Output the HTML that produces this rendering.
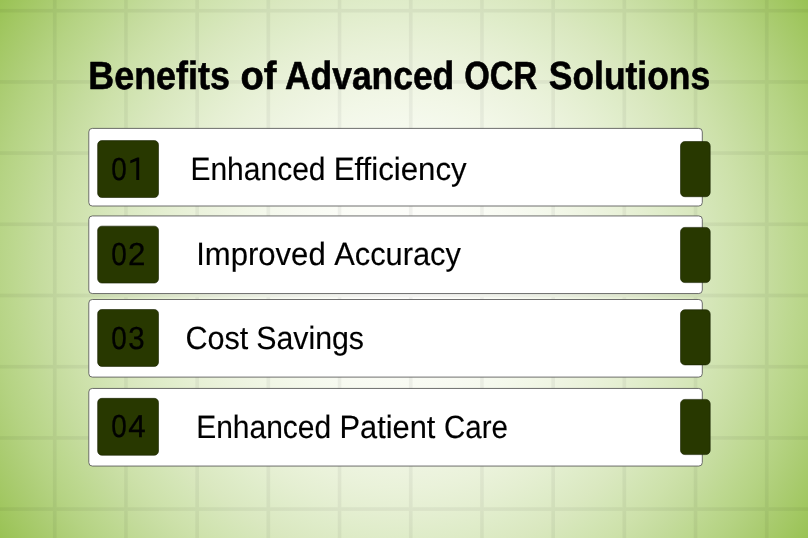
<!DOCTYPE html>
<html><head><meta charset="utf-8"><title>Benefits of Advanced OCR Solutions</title>
<style>
html,body{margin:0;padding:0;background:#9cc35a;}
body{width:808px;height:538px;overflow:hidden;font-family:"Liberation Sans",sans-serif;}
svg{display:block;font-family:"Liberation Sans",sans-serif;}
.txt{position:absolute;left:0;top:0;will-change:transform;transform:translateZ(0);}
</style></head><body>
<svg width="808" height="538" viewBox="0 0 808 538">
<defs><radialGradient id="bg" gradientUnits="userSpaceOnUse" cx="404.0" cy="269.0" r="485.36"><stop offset="0.000" stop-color="rgb(254,254,252)"/><stop offset="0.050" stop-color="rgb(254,254,252)"/><stop offset="0.100" stop-color="rgb(253,253,250)"/><stop offset="0.150" stop-color="rgb(252,253,248)"/><stop offset="0.200" stop-color="rgb(250,252,245)"/><stop offset="0.250" stop-color="rgb(248,250,242)"/><stop offset="0.300" stop-color="rgb(245,249,237)"/><stop offset="0.350" stop-color="rgb(242,247,231)"/><stop offset="0.400" stop-color="rgb(238,244,225)"/><stop offset="0.450" stop-color="rgb(234,242,218)"/><stop offset="0.500" stop-color="rgb(229,239,210)"/><stop offset="0.550" stop-color="rgb(223,236,201)"/><stop offset="0.600" stop-color="rgb(218,232,192)"/><stop offset="0.650" stop-color="rgb(211,229,181)"/><stop offset="0.700" stop-color="rgb(205,225,170)"/><stop offset="0.750" stop-color="rgb(197,220,158)"/><stop offset="0.800" stop-color="rgb(189,216,144)"/><stop offset="0.850" stop-color="rgb(181,211,131)"/><stop offset="0.900" stop-color="rgb(172,205,116)"/><stop offset="0.950" stop-color="rgb(163,200,100)"/><stop offset="1.000" stop-color="rgb(153,194,84)"/></radialGradient></defs>
<rect width="808" height="538" fill="url(#bg)"/>
<g fill="#000" opacity="0.045"><rect x="-18.30" y="0" width="3.7" height="538"/><rect x="52.90" y="0" width="3.7" height="538"/><rect x="124.10" y="0" width="3.7" height="538"/><rect x="195.30" y="0" width="3.7" height="538"/><rect x="266.50" y="0" width="3.7" height="538"/><rect x="337.70" y="0" width="3.7" height="538"/><rect x="408.90" y="0" width="3.7" height="538"/><rect x="480.10" y="0" width="3.7" height="538"/><rect x="551.30" y="0" width="3.7" height="538"/><rect x="622.50" y="0" width="3.7" height="538"/><rect x="693.70" y="0" width="3.7" height="538"/><rect x="764.90" y="0" width="3.7" height="538"/><rect x="836.10" y="0" width="3.7" height="538"/><rect x="0" y="-62.35" width="808" height="3.7"/><rect x="0" y="8.85" width="808" height="3.7"/><rect x="0" y="80.05" width="808" height="3.7"/><rect x="0" y="151.25" width="808" height="3.7"/><rect x="0" y="222.45" width="808" height="3.7"/><rect x="0" y="293.65" width="808" height="3.7"/><rect x="0" y="364.85" width="808" height="3.7"/><rect x="0" y="436.05" width="808" height="3.7"/><rect x="0" y="507.25" width="808" height="3.7"/><rect x="0" y="578.45" width="808" height="3.7"/></g>
<rect x="88.8" y="128.40" width="613.5" height="77.6" rx="3.5" fill="#fff" stroke="#555" stroke-width="0.85"/>
<rect x="97.65" y="140.60" width="60.85" height="56.9" rx="4.2" fill="#283800" stroke="#182100" stroke-width="0.6"/>
<rect x="680.5" y="141.50" width="29.7" height="55.2" rx="4.4" fill="#283800" stroke="#182100" stroke-width="0.6"/>
<rect x="88.8" y="215.95" width="613.5" height="77.6" rx="3.5" fill="#fff" stroke="#555" stroke-width="0.85"/>
<rect x="97.65" y="226.15" width="60.85" height="56.9" rx="4.2" fill="#283800" stroke="#182100" stroke-width="0.6"/>
<rect x="680.5" y="227.40" width="29.7" height="55.2" rx="4.4" fill="#283800" stroke="#182100" stroke-width="0.6"/>
<rect x="88.8" y="299.50" width="613.5" height="77.6" rx="3.5" fill="#fff" stroke="#555" stroke-width="0.85"/>
<rect x="97.65" y="309.50" width="60.85" height="56.9" rx="4.2" fill="#283800" stroke="#182100" stroke-width="0.6"/>
<rect x="680.5" y="309.70" width="29.7" height="55.2" rx="4.4" fill="#283800" stroke="#182100" stroke-width="0.6"/>
<rect x="88.8" y="388.45" width="613.5" height="77.6" rx="3.5" fill="#fff" stroke="#555" stroke-width="0.85"/>
<rect x="97.65" y="398.35" width="60.85" height="56.9" rx="4.2" fill="#283800" stroke="#182100" stroke-width="0.6"/>
<rect x="680.5" y="399.40" width="29.7" height="55.2" rx="4.4" fill="#283800" stroke="#182100" stroke-width="0.6"/>

</svg>
<svg class="txt" width="808" height="538" viewBox="0 0 808 538" text-rendering="geometricPrecision">
<text x="88.37" y="88.50" font-size="39.3" font-weight="bold" textLength="141.49" lengthAdjust="spacingAndGlyphs" fill="#000" stroke="#000" stroke-width="0.6" stroke-linejoin="round">Benefits</text>
<text x="240.52" y="88.50" font-size="39.3" font-weight="bold" textLength="35.96" lengthAdjust="spacingAndGlyphs" fill="#000" stroke="#000" stroke-width="0.6" stroke-linejoin="round">of</text>
<text x="285.00" y="88.50" font-size="39.3" font-weight="bold" textLength="169.25" lengthAdjust="spacingAndGlyphs" fill="#000" stroke="#000" stroke-width="0.6" stroke-linejoin="round">Advanced</text>
<text x="464.17" y="88.50" font-size="39.3" font-weight="bold" textLength="73.06" lengthAdjust="spacingAndGlyphs" fill="#000" stroke="#000" stroke-width="0.6" stroke-linejoin="round">OCR</text>
<text x="548.76" y="88.50" font-size="39.3" font-weight="bold" textLength="161.47" lengthAdjust="spacingAndGlyphs" fill="#000" stroke="#000" stroke-width="0.6" stroke-linejoin="round">Solutions</text>
<text x="190.42" y="180.05" font-size="32.2" font-weight="normal" textLength="135.14" lengthAdjust="spacingAndGlyphs" fill="#000" stroke="#000" stroke-width="0.15">Enhanced</text>
<text x="333.63" y="180.05" font-size="32.2" font-weight="normal" textLength="133.00" lengthAdjust="spacingAndGlyphs" fill="#000" stroke="#000" stroke-width="0.15">Efficiency</text>
<text x="196.16" y="265.40" font-size="32.2" font-weight="normal" textLength="129.53" lengthAdjust="spacingAndGlyphs" fill="#000" stroke="#000" stroke-width="0.15">Improved</text>
<text x="334.23" y="265.40" font-size="32.2" font-weight="normal" textLength="126.63" lengthAdjust="spacingAndGlyphs" fill="#000" stroke="#000" stroke-width="0.15">Accuracy</text>
<text x="185.40" y="349.05" font-size="32.2" font-weight="normal" textLength="62.90" lengthAdjust="spacingAndGlyphs" fill="#000" stroke="#000" stroke-width="0.15">Cost</text>
<text x="256.20" y="349.05" font-size="32.2" font-weight="normal" textLength="107.82" lengthAdjust="spacingAndGlyphs" fill="#000" stroke="#000" stroke-width="0.15">Savings</text>
<text x="196.15" y="438.00" font-size="32.2" font-weight="normal" textLength="135.10" lengthAdjust="spacingAndGlyphs" fill="#000" stroke="#000" stroke-width="0.15">Enhanced</text>
<text x="339.58" y="438.00" font-size="32.2" font-weight="normal" textLength="95.77" lengthAdjust="spacingAndGlyphs" fill="#000" stroke="#000" stroke-width="0.15">Patient</text>
<text x="444.10" y="438.00" font-size="32.2" font-weight="normal" textLength="63.85" lengthAdjust="spacingAndGlyphs" fill="#000" stroke="#000" stroke-width="0.15">Care</text>
<text x="111.31" y="179.80" font-size="31.8" font-weight="normal" textLength="15.52" lengthAdjust="spacingAndGlyphs" fill="#010200" stroke="#010200" stroke-width="0.3">0</text>
<text x="111.31" y="265.10" font-size="31.8" font-weight="normal" textLength="15.52" lengthAdjust="spacingAndGlyphs" fill="#010200" stroke="#010200" stroke-width="0.3">0</text>
<text x="111.31" y="348.50" font-size="31.8" font-weight="normal" textLength="15.52" lengthAdjust="spacingAndGlyphs" fill="#010200" stroke="#010200" stroke-width="0.3">0</text>
<text x="111.31" y="437.20" font-size="31.8" font-weight="normal" textLength="15.52" lengthAdjust="spacingAndGlyphs" fill="#010200" stroke="#010200" stroke-width="0.3">0</text>
<text x="128.06" y="265.10" font-size="31.8" font-weight="normal" textLength="17.43" lengthAdjust="spacingAndGlyphs" fill="#010200" stroke="#010200" stroke-width="0.3">2</text>
<text x="128.25" y="348.50" font-size="31.8" font-weight="normal" textLength="16.39" lengthAdjust="spacingAndGlyphs" fill="#010200" stroke="#010200" stroke-width="0.3">3</text>
<text x="128.23" y="437.20" font-size="31.8" font-weight="normal" textLength="17.48" lengthAdjust="spacingAndGlyphs" fill="#010200" stroke="#010200" stroke-width="0.3">4</text>
<path d="M139.2 157.6V180H136.3V161L130.3 163.2V160.5L137.2 157.6Z" fill="#010200"/>

</svg>
</body></html>
